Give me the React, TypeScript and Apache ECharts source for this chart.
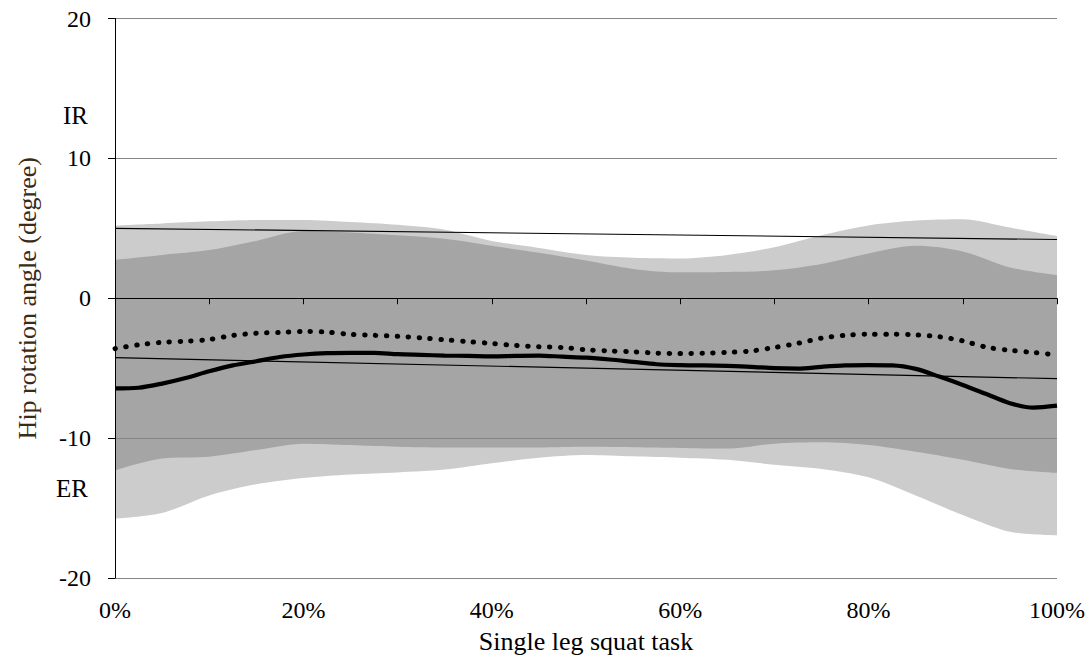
import React, { useEffect, useRef } from "react";
import * as echarts from "echarts";

// x positions (% of task) for bands
const bandX = [0, 5, 10, 15, 20, 25, 30, 35, 40, 45, 50, 55, 60, 65, 70, 75, 80, 85, 90, 95, 100];
// light band (outer) upper / lower
const lightUpper = [5.2, 5.35, 5.5, 5.6, 5.6, 5.45, 5.25, 4.9, 4.1, 3.6, 3.1, 2.9, 2.85, 3.1, 3.65, 4.5, 5.2, 5.55, 5.65, 5.05, 4.45];
const lightLower = [-15.75, -15.35, -14.1, -13.3, -12.85, -12.6, -12.45, -12.25, -11.8, -11.4, -11.2, -11.3, -11.4, -11.55, -11.9, -12.2, -12.8, -14.1, -15.5, -16.7, -16.95];
// dark band (inner) upper / lower
const darkUpper = [2.75, 3.1, 3.45, 4.1, 4.8, 4.7, 4.5, 4.25, 3.75, 3.25, 2.7, 2.1, 1.85, 1.88, 2.0, 2.45, 3.2, 3.75, 3.35, 2.2, 1.65];
const darkLower = [-12.3, -11.45, -11.33, -10.85, -10.4, -10.5, -10.62, -10.67, -10.67, -10.67, -10.62, -10.65, -10.7, -10.75, -10.4, -10.3, -10.5, -10.98, -11.55, -12.2, -12.48];

// x positions for mean curves
const lineX = [0, 2.5, 5, 7.5, 10, 12.5, 15, 17.5, 20, 22.5, 25, 27.5, 30, 32.5, 35, 37.5, 40, 42.5, 45, 47.5, 50, 52.5, 55, 57.5, 60, 62.5, 65, 67.5, 70, 72.5, 75, 77.5, 80, 82.5, 85, 87.5, 90, 92.5, 95, 97.5, 100];
const solidMean = [-6.45, -6.4, -6.1, -5.7, -5.22, -4.8, -4.5, -4.2, -4.02, -3.92, -3.9, -3.9, -4.0, -4.05, -4.1, -4.12, -4.15, -4.12, -4.1, -4.18, -4.25, -4.38, -4.55, -4.72, -4.78, -4.8, -4.84, -4.9, -5.0, -5.03, -4.9, -4.8, -4.78, -4.8, -5.05, -5.6, -6.2, -6.85, -7.5, -7.82, -7.68];
const dottedMean = [-3.6, -3.33, -3.15, -3.07, -2.95, -2.66, -2.5, -2.45, -2.38, -2.42, -2.58, -2.65, -2.72, -2.83, -2.97, -3.1, -3.23, -3.37, -3.47, -3.52, -3.68, -3.77, -3.83, -3.92, -3.95, -3.93, -3.87, -3.77, -3.52, -3.22, -2.85, -2.65, -2.57, -2.57, -2.62, -2.75, -3.05, -3.5, -3.72, -3.88, -4.05];

// linear trend lines (start, end)
const trendX = [0, 100];
const trendUpper = [5.0, 4.2];
const trendLower = [-4.25, -5.75];

const yTicks = { min: -20, max: 20, interval: 10 };
const xLabelTicks = { min: 0, max: 100, interval: 20 };

const FONT = "'Liberation Serif', 'Times New Roman', serif";

export default function App() {
  const ref = useRef<HTMLDivElement>(null);
  useEffect(() => {
    if (!ref.current) return;
    const chart = echarts.init(ref.current, undefined, { renderer: "svg" });
    const pair = (xs: number[], ys: number[]) => xs.map((x, i) => [x, ys[i]]);
    const noLine = { width: 0, opacity: 0 };
    // Bands are layered: each edge is filled down to the axis minimum, later layers cover earlier ones.
    const layer = (name: string, ys: number[], color: string) => ({
      type: "line", name, symbol: "none", z: 1, silent: true, smooth: 0.3,
      lineStyle: noLine,
      areaStyle: { color, opacity: 1, origin: "start" },
      data: pair(bandX, ys),
    });
    chart.setOption({
      animation: false,
      backgroundColor: "#ffffff",
      grid: { left: 115, right: 34, top: 18.5, bottom: 85, containLabel: false },
      xAxis: [
        {
          type: "value",
          min: 0,
          max: 100,
          interval: 10,
          z: 5,
          axisLine: { show: true, onZero: true, lineStyle: { color: "#000", width: 1 } },
          axisTick: { show: true, inside: false, length: 6, lineStyle: { color: "#000", width: 1 } },
          axisLabel: { show: false },
          splitLine: { show: false },
        },
        {
          type: "value",
          position: "bottom",
          min: xLabelTicks.min,
          max: xLabelTicks.max,
          interval: xLabelTicks.interval,
          axisLine: { show: false, onZero: false },
          axisTick: { show: false },
          splitLine: { show: false },
          axisLabel: { show: true, formatter: "{value}%", fontSize: 24, fontFamily: FONT, color: "#000", margin: 20 },
          name: "Single leg squat task",
          nameLocation: "middle",
          nameGap: 50,
          nameTextStyle: { fontSize: 26, fontFamily: FONT, color: "#000" },
        },
      ],
      yAxis: {
        type: "value",
        min: yTicks.min,
        max: yTicks.max,
        interval: yTicks.interval,
        z: 3,
        axisLine: { show: true, lineStyle: { color: "#000", width: 1 } },
        axisTick: { show: true, inside: false, length: 7, lineStyle: { color: "#000" } },
        axisLabel: { fontSize: 24, fontFamily: FONT, color: "#000", margin: 24 },
        splitLine: { show: true, lineStyle: { color: "#858585", width: 1 } },
        name: "Hip rotation angle (degree)",
        nameLocation: "middle",
        nameGap: 75,
        nameTextStyle: { fontSize: 26, fontFamily: FONT, color: "#3c2a14" },
      },
      graphic: [
        { type: "text", x: 88, y: 115, style: { text: "IR", fontSize: 25, fontFamily: FONT, fill: "#000", align: "right", verticalAlign: "middle" } },
        { type: "text", x: 88, y: 488, style: { text: "ER", fontSize: 25, fontFamily: FONT, fill: "#000", align: "right", verticalAlign: "middle" } },
      ],
      series: [
        layer("lightUpper", lightUpper, "#cccccc"),
        layer("darkUpper", darkUpper, "#a5a5a5"),
        layer("darkLower", darkLower, "#cccccc"),
        layer("lightLower", lightLower, "#ffffff"),
        {
          type: "line", name: "trendUpper", symbol: "none", z: 4,
          lineStyle: { color: "#000", width: 1.2 }, data: pair(trendX, trendUpper),
        },
        {
          type: "line", name: "trendLower", symbol: "none", z: 4,
          lineStyle: { color: "#000", width: 1.2 }, data: pair(trendX, trendLower),
        },
        {
          type: "line", name: "solid", symbol: "none", z: 4, smooth: 0.3,
          lineStyle: { color: "#000", width: 4.2 }, data: pair(lineX, solidMean),
        },
        {
          type: "line", name: "dotted", symbol: "none", z: 4, smooth: 0.3,
          lineStyle: { color: "#000", width: 5, type: [0.5, 10.4], cap: "round" }, data: pair(lineX, dottedMean),
        },
      ],
    });
    return () => chart.dispose();
  }, []);
  return (
    <div
      ref={ref}
      style={{ position: "fixed", left: 0, top: 0, width: 1091, height: 663, background: "#fff" }}
    />
  );
}
